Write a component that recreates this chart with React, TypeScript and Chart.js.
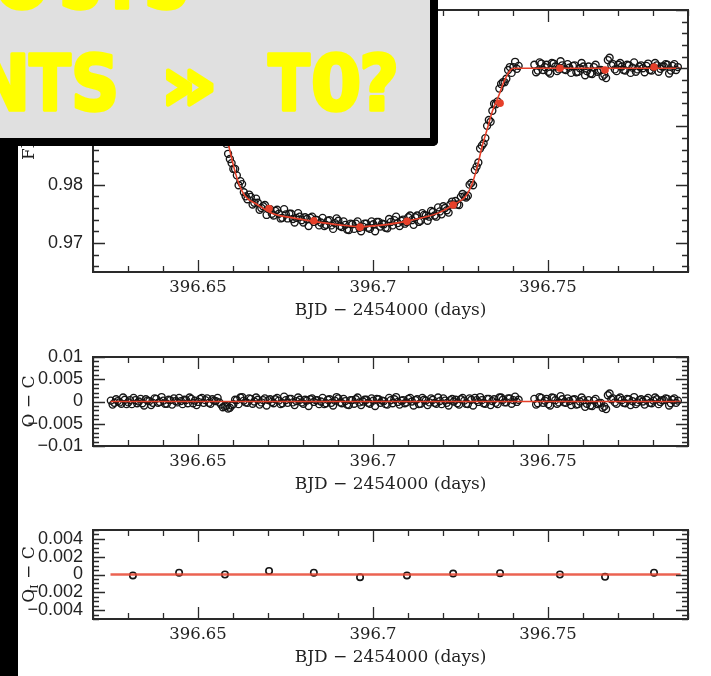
import React, { useEffect, useRef } from 'react';
import { Chart, registerables } from 'chart.js';

Chart.register(...registerables);

// ---------- data ----------
// exposures, first half of the cadence
const TIMES = [
  396.6251, 396.6261, 396.6271, 396.6281, 396.6291, 396.6301, 396.6311, 396.6321, 396.6331, 396.6341,
  396.6351, 396.6361, 396.6371, 396.6381, 396.6391, 396.6401, 396.6411, 396.6421, 396.6431, 396.6441,
  396.6451, 396.6461, 396.6471, 396.6481, 396.6491, 396.6501, 396.6511, 396.6521, 396.6531, 396.6541,
  396.6551, 396.6561, 396.6571, 396.6581, 396.6591, 396.6601, 396.6611, 396.6621, 396.6631, 396.6641,
  396.6651, 396.6661, 396.6671, 396.6681, 396.6691, 396.6701, 396.6711, 396.6721, 396.6731, 396.6741,
  396.6751, 396.6761, 396.6771, 396.6781, 396.6791, 396.6801, 396.6811, 396.6821, 396.6831, 396.6841,
  396.6851, 396.6861, 396.6871, 396.6881, 396.6891, 396.6901, 396.6911, 396.6921, 396.6931, 396.6941,
  396.6951, 396.6961, 396.6971, 396.6981, 396.6991, 396.7001, 396.7011, 396.7021, 396.7031, 396.7041,
  396.7051, 396.7061, 396.7071, 396.7081, 396.7091, 396.7101, 396.7111, 396.7121, 396.7131, 396.7141,
  396.7151, 396.7161, 396.7171, 396.7181, 396.7191, 396.7201, 396.7211, 396.7221, 396.7231, 396.7241,
  396.7251, 396.7261, 396.7271, 396.7281, 396.7291, 396.7301, 396.7311, 396.7321, 396.7331, 396.7341,
  396.7351, 396.7361, 396.7371, 396.7381, 396.7391, 396.7401, 396.7411,
  396.7461, 396.7471, 396.7481, 396.7491, 396.7501, 396.7511, 396.7521, 396.7531, 396.7541, 396.7551,
  396.7561, 396.7571, 396.7581, 396.7591, 396.7601, 396.7611, 396.7621, 396.7631, 396.7641, 396.7651,
  396.7661, 396.7671, 396.7681, 396.7691, 396.7701, 396.7711, 396.7721, 396.7731, 396.7741, 396.7751,
  396.7761, 396.7771, 396.7781, 396.7791, 396.7801, 396.7811, 396.7821, 396.7831, 396.7841, 396.7851,
  396.7861, 396.7871,
];
const FLUX = [
  1.0002, 0.9997, 1.0001, 0.9995, 1.0004, 0.9998, 0.9994, 1.0003, 1.0000, 0.9996,
  1.0005, 1.0001, 0.9997, 1.0006, 0.9999, 1.0002, 0.9995, 1.0003, 1.0007, 0.9998,
  1.0001, 1.0004, 0.9996, 1.0006, 1.0002, 0.9998, 1.0001, 0.9985, 0.9966, 0.9958,
  0.9939, 0.9920, 0.9888, 0.9870, 0.9844, 0.9827, 0.9816, 0.9806, 0.9787, 0.9775,
  0.9779, 0.9769, 0.9769, 0.9760, 0.9765, 0.9758, 0.9750, 0.9755, 0.9750, 0.9743,
  0.9749, 0.9750, 0.9741, 0.9743, 0.9745, 0.9735, 0.9741, 0.9743, 0.9736, 0.9739,
  0.9735, 0.9729, 0.9738, 0.9730, 0.9734, 0.9738, 0.9727, 0.9731, 0.9722, 0.9732,
  0.9733, 0.9726, 0.9728, 0.9733, 0.9724, 0.9732, 0.9736, 0.9728, 0.9732, 0.9725,
  0.9736, 0.9739, 0.9734, 0.9738, 0.9733, 0.9744, 0.9739, 0.9744, 0.9736, 0.9751,
  0.9747, 0.9745, 0.9753, 0.9745, 0.9754, 0.9763, 0.9756, 0.9766, 0.9766, 0.9766,
  0.9779, 0.9780, 0.9781, 0.9803, 0.9825, 0.9838, 0.9867, 0.9880, 0.9911, 0.9927,
  0.9938, 0.9965, 0.9976, 0.9982, 1.0002, 1.0002, 0.9999,
  1.0006, 0.9996, 1.0008, 1.0002, 0.9994, 1.0009, 1.0003, 0.9998, 1.0005, 0.9997,
  1.0001, 1.0004, 0.9993, 1.0000, 1.0003, 0.9995, 0.9991, 1.0002, 0.9994, 0.9997,
  0.9989, 1.0014, 1.0005, 0.9998, 1.0006, 1.0003, 0.9996, 1.0005, 1.0001, 0.9994,
  1.0003, 1.0000, 1.0004, 0.9997, 1.0002, 1.0005, 0.9999, 1.0003, 1.0006, 0.9996,
  1.0007, 1.0002,
];
const RESID = [
  0.0002, -0.0003, 0.0001, -0.0005, 0.0004, -0.0002, -0.0006, 0.0003, 0.0000, -0.0004,
  0.0005, 0.0001, -0.0003, 0.0006, -0.0001, 0.0002, -0.0005, 0.0003, 0.0007, -0.0002,
  0.0001, 0.0004, -0.0004, 0.0006, 0.0002, -0.0001, 0.0008, 0.0003, -0.0003, 0.0005,
  0.0001, -0.0002, -0.0013, -0.0010, -0.0014, -0.0006, 0.0003, 0.0009, 0.0002, -0.0003,
  0.0006, 0.0000, 0.0004, -0.0002, 0.0007, 0.0003, -0.0001, 0.0005, 0.0002, -0.0004,
  0.0003, 0.0006, -0.0002, 0.0001, 0.0004, -0.0005, 0.0002, 0.0005, -0.0001, 0.0003,
  0.0000, -0.0006, 0.0004, -0.0003, 0.0002, 0.0007, -0.0004, 0.0001, -0.0008, 0.0003,
  0.0005, -0.0002, 0.0000, 0.0004, -0.0005, 0.0002, 0.0006, -0.0003, 0.0001, -0.0007,
  0.0003, 0.0005, -0.0001, 0.0002, -0.0004, 0.0006, 0.0000, 0.0003, -0.0006, 0.0008,
  0.0002, -0.0002, 0.0004, -0.0005, 0.0001, 0.0007, -0.0003, 0.0003, 0.0000, -0.0004,
  0.0005, 0.0002, -0.0006, 0.0004, 0.0008, -0.0001, 0.0003, -0.0005, 0.0006, 0.0001,
  -0.0003, 0.0009, 0.0004, -0.0002, 0.0007, 0.0003, -0.0001,
  0.0006, -0.0004, 0.0008, 0.0002, -0.0006, 0.0009, 0.0003, -0.0002, 0.0005, -0.0003,
  0.0001, 0.0004, -0.0007, 0.0000, 0.0003, -0.0005, -0.0009, 0.0002, -0.0006, -0.0003,
  -0.0011, 0.0014, 0.0005, -0.0002, 0.0006, 0.0003, -0.0004, 0.0005, 0.0001, -0.0006,
  0.0003, 0.0000, 0.0004, -0.0003, 0.0002, 0.0005, -0.0001, 0.0003, 0.0006, -0.0004,
  0.0007, 0.0002,
];

// exposures, second half of the cadence
const TIMES_B = [
  396.6256, 396.6266, 396.6276, 396.6286, 396.6296, 396.6306, 396.6316, 396.6326, 396.6336, 396.6346,
  396.6356, 396.6366, 396.6376, 396.6386, 396.6396, 396.6406, 396.6416, 396.6426, 396.6436, 396.6446,
  396.6456, 396.6466, 396.6476, 396.6486, 396.6496, 396.6506, 396.6516, 396.6526, 396.6536, 396.6546,
  396.6556, 396.6566, 396.6576, 396.6586, 396.6596, 396.6606, 396.6616, 396.6626, 396.6636, 396.6646,
  396.6656, 396.6666, 396.6676, 396.6686, 396.6696, 396.6706, 396.6716, 396.6726, 396.6736, 396.6746,
  396.6756, 396.6766, 396.6776, 396.6786, 396.6796, 396.6806, 396.6816, 396.6826, 396.6836, 396.6846,
  396.6856, 396.6866, 396.6876, 396.6886, 396.6896, 396.6906, 396.6916, 396.6926, 396.6936, 396.6946,
  396.6956, 396.6966, 396.6976, 396.6986, 396.6996, 396.7006, 396.7016, 396.7026, 396.7036, 396.7046,
  396.7056, 396.7066, 396.7076, 396.7086, 396.7096, 396.7106, 396.7116, 396.7126, 396.7136, 396.7146,
  396.7156, 396.7166, 396.7176, 396.7186, 396.7196, 396.7206, 396.7216, 396.7226, 396.7236, 396.7246,
  396.7256, 396.7266, 396.7276, 396.7286, 396.7296, 396.7306, 396.7316, 396.7326, 396.7336, 396.7346,
  396.7356, 396.7366, 396.7376, 396.7386, 396.7396, 396.7406, 396.7416,
  396.7466, 396.7476, 396.7486, 396.7496, 396.7506, 396.7516, 396.7526, 396.7536, 396.7546, 396.7556,
  396.7566, 396.7576, 396.7586, 396.7596, 396.7606, 396.7616, 396.7626, 396.7636, 396.7646, 396.7656,
  396.7666, 396.7676, 396.7686, 396.7696, 396.7706, 396.7716, 396.7726, 396.7736, 396.7746, 396.7756,
  396.7766, 396.7776, 396.7786, 396.7796, 396.7806, 396.7816, 396.7826, 396.7836, 396.7846, 396.7856,
  396.7866,
];
const FLUX_B = [
  0.9993, 1.0005, 0.9998, 1.0009, 0.9994, 1.0003, 1.0008, 0.9996, 1.0006, 0.9991,
  1.0002, 0.9992, 1.0007, 0.9997, 1.0010, 0.9995, 1.0004, 0.9993, 1.0001, 1.0008,
  0.9994, 1.0003, 1.0009, 0.9996, 0.9992, 1.0002, 0.9985, 0.9983, 0.9956, 0.9948,
  0.9938, 0.9905, 0.9880, 0.9853, 0.9837, 0.9827, 0.9799, 0.9801, 0.9780, 0.9783,
  0.9766, 0.9776, 0.9757, 0.9763, 0.9748, 0.9758, 0.9747, 0.9757, 0.9742, 0.9758,
  0.9742, 0.9750, 0.9735, 0.9751, 0.9739, 0.9744, 0.9729, 0.9745, 0.9740, 0.9730,
  0.9743, 0.9731, 0.9739, 0.9724, 0.9742, 0.9729, 0.9737, 0.9723, 0.9733, 0.9724,
  0.9737, 0.9720, 0.9733, 0.9726, 0.9737, 0.9720, 0.9736, 0.9733, 0.9726, 0.9741,
  0.9730, 0.9745, 0.9729, 0.9740, 0.9736, 0.9747, 0.9731, 0.9747, 0.9738, 0.9748,
  0.9738, 0.9755, 0.9747, 0.9761, 0.9749, 0.9760, 0.9752, 0.9771, 0.9772, 0.9765,
  0.9784, 0.9778, 0.9800, 0.9799, 0.9831, 0.9862, 0.9871, 0.9901, 0.9908, 0.9939,
  0.9943, 0.9973, 0.9976, 0.9997, 0.9992, 1.0011, 1.0004,
  0.9993, 1.0010, 0.9997, 1.0006, 0.9991, 1.0008, 0.9995, 1.0012, 0.9998, 1.0007,
  0.9992, 1.0005, 0.9994, 1.0009, 0.9988, 1.0003, 0.9990, 1.0006, 0.9996, 0.9986,
  0.9983, 1.0018, 1.0007, 0.9995, 1.0009, 0.9997, 1.0006, 0.9992, 1.0010, 0.9998,
  1.0005, 0.9993, 1.0008, 0.9996, 1.0009, 0.9994, 1.0003, 1.0007, 0.9991, 1.0004,
  0.9997,
];
const RESID_B = [
  -0.0007, 0.0005, -0.0002, 0.0009, -0.0006, 0.0003, 0.0008, -0.0004, 0.0006, -0.0009,
  0.0002, -0.0008, 0.0007, -0.0003, 0.0010, -0.0005, 0.0004, -0.0007, 0.0001, 0.0008,
  -0.0006, 0.0003, 0.0009, -0.0004, -0.0008, 0.0006, -0.0003, 0.0007, -0.0005, 0.0002,
  0.0008, -0.0007, -0.0011, -0.0016, -0.0009, 0.0004, -0.0006, 0.0010, -0.0002, 0.0007,
  -0.0005, 0.0009, -0.0007, 0.0003, -0.0009, 0.0005, -0.0004, 0.0008, -0.0006, 0.0011,
  -0.0003, 0.0006, -0.0008, 0.0009, -0.0002, 0.0004, -0.0010, 0.0007, 0.0003, -0.0006,
  0.0008, -0.0004, 0.0005, -0.0009, 0.0010, -0.0002, 0.0006, -0.0007, 0.0003, -0.0005,
  0.0009, -0.0008, 0.0004, -0.0003, 0.0007, -0.0010, 0.0005, 0.0002, -0.0006, 0.0008,
  -0.0004, 0.0010, -0.0007, 0.0003, -0.0002, 0.0008, -0.0009, 0.0005, -0.0005, 0.0004,
  -0.0008, 0.0007, -0.0003, 0.0009, -0.0006, 0.0002, -0.0009, 0.0006, 0.0004, -0.0007,
  0.0008, -0.0005, 0.0007, -0.0009, 0.0003, 0.0010, -0.0004, 0.0006, -0.0008, 0.0005,
  -0.0006, 0.0009, -0.0002, 0.0007, -0.0005, 0.0011, 0.0004,
  -0.0007, 0.0010, -0.0003, 0.0006, -0.0009, 0.0008, -0.0005, 0.0012, -0.0002, 0.0007,
  -0.0008, 0.0005, -0.0006, 0.0009, -0.0012, 0.0003, -0.0010, 0.0006, -0.0004, -0.0014,
  -0.0017, 0.0018, 0.0007, -0.0005, 0.0009, -0.0003, 0.0006, -0.0008, 0.0010, -0.0002,
  0.0005, -0.0007, 0.0008, -0.0004, 0.0009, -0.0006, 0.0003, 0.0007, -0.0009, 0.0004,
  -0.0003,
];

// transit model (red curve)
const MODEL_T = [
  396.6250, 396.6497, 396.6507, 396.6526, 396.6540, 396.6559, 396.6573, 396.6588, 396.6602, 396.6616,
  396.6635, 396.6669, 396.6711, 396.6771, 396.6831, 396.6903, 396.6960, 396.7031, 396.7093, 396.7146,
  396.7189, 396.7231, 396.7265, 396.7284, 396.7298, 396.7312, 396.7327, 396.7341, 396.7360, 396.7374,
  396.7393, 396.7403, 396.7880,
];
const MODEL_F = [
  1.0000, 1.0000, 0.9997, 0.9977, 0.9954, 0.9926, 0.9897, 0.9866, 0.9831, 0.9803,
  0.9780, 0.9766, 0.9751, 0.9743, 0.9737, 0.9731, 0.9728, 0.9731, 0.9737, 0.9744,
  0.9752, 0.9766, 0.9780, 0.9803, 0.9831, 0.9866, 0.9897, 0.9926, 0.9954, 0.9977,
  0.9997, 1.0000, 1.0000,
];

// binned points
const BIN_T = [396.6314, 396.6446, 396.6577, 396.6703, 396.6831, 396.6963, 396.7097, 396.7229, 396.7363, 396.7534, 396.7663, 396.7803];
const BIN_FLUX = [1.0000, 1.0001, 0.9890, 0.9759, 0.9738, 0.9727, 0.9737, 0.9765, 0.9940, 1.0000, 0.9997, 1.0002];
const BIN_RESID = [-0.0001, 0.0002, 0.0000, 0.0004, 0.0002, -0.0003, -0.0001, 0.0001, 0.00015, 0.0000, -0.00026, 0.0002];

const ZERO_T = [396.6250, 396.7879];
const ZERO_V = [0, 0];

const X_TICKS = [396.65, 396.7, 396.75];
const FLUX_TICKS = [0.97, 0.98, 0.99, 1.0];
const OC_TICKS = [-0.01, -0.005, 0, 0.005, 0.01];
const OIC_TICKS = [-0.004, -0.002, 0, 0.002, 0.004];

const X_TITLE = 'BJD − 2454000 (days)';
// [character, centre x, horizontal scale]
const BOX_LINE1: [string, number, number][] = [['O', 22, 0.88], ['S', 81, 0.8], ['I', 122, 0.8], ['S', 167, 0.85]];
const BOX_LINE2: [string, number, number][] = [
  ['N', 2, 0.88], ['T', 50, 0.8], ['S', 95, 0.88], ['»', 189, 1.2], ['T', 289, 0.8], ['0', 336, 0.95], ['?', 379, 0.9],
];

// ---------- styling ----------
const RED = '#e6402a';
const INK = '#222222';

function makeFrameTicks(o: any) {
  return {
    id: 'frameTicks',
    afterDraw(chart: any) {
      const { ctx, chartArea } = chart;
      const { left, right, top, bottom } = chartArea;
      const xs = chart.scales.x;
      const ys = chart.scales.y;
      const list = (min: number, max: number, step: number) => {
        const out: number[] = [];
        const a = Math.ceil(min / step - 1e-6);
        const b = Math.floor(max / step + 1e-6);
        for (let i = a; i <= b; i++) out.push(i * step);
        return out;
      };
      const major = (v: number, step: number) => Math.abs(v / step - Math.round(v / step)) < 1e-5;
      ctx.save();
      ctx.strokeStyle = '#2a2a2a';
      ctx.lineWidth = 1.3;
      ctx.beginPath();
      for (const v of list(xs.min, xs.max, o.xMinor)) {
        const p = Math.round(xs.getPixelForValue(v)) + 0.5;
        const len = major(v, o.xMajor) ? 12 : 6;
        ctx.moveTo(p, bottom); ctx.lineTo(p, bottom - len);
        ctx.moveTo(p, top); ctx.lineTo(p, top + len);
      }
      for (const v of list(ys.min, ys.max, o.yMinor)) {
        const p = Math.round(ys.getPixelForValue(v)) + 0.5;
        const len = major(v, o.yMajor) ? 12 : 6;
        ctx.moveTo(left, p); ctx.lineTo(left + len, p);
        ctx.moveTo(right, p); ctx.lineTo(right - len, p);
      }
      ctx.stroke();
      ctx.lineWidth = 2;
      ctx.strokeRect(left, top, right - left, bottom - top);
      ctx.restore();
    },
  };
}

function makeYTitle(parts: { t: string; sub?: boolean }[]) {
  return {
    id: 'yTitle',
    afterDraw(chart: any) {
      const { ctx, chartArea } = chart;
      const cy = (chartArea.top + chartArea.bottom) / 2;
      ctx.save();
      ctx.translate(27.5, cy);
      ctx.rotate(-Math.PI / 2);
      ctx.fillStyle = INK;
      ctx.textBaseline = 'alphabetic';
      ctx.textAlign = 'left';
      const main = '17px "DejaVu Serif"';
      const sub = '11px "DejaVu Serif"';
      let total = 0;
      const widths = parts.map((p) => {
        ctx.font = p.sub ? sub : main;
        const w = ctx.measureText(p.t).width;
        total += w;
        return w;
      });
      let x = -total / 2;
      parts.forEach((p, i) => {
        ctx.font = p.sub ? sub : main;
        ctx.fillText(p.t, x, p.sub ? 10 : 6);
        x += widths[i];
      });
      ctx.restore();
    },
  };
}

const fmt = (v: number) => String(v).replace('-', '−');

function panelConfig(p: any) {
  return {
    type: 'scatter',
    data: { datasets: p.datasets },
    options: {
      responsive: false,
      animation: false,
      events: [],
      layout: { padding: { left: 0, right: 23, top: p.padTop, bottom: 0 } },
      plugins: { legend: { display: false }, tooltip: { enabled: false } },
      scales: {
        x: {
          type: 'linear',
          min: 396.62,
          max: 396.79,
          afterBuildTicks: (s: any) => { s.ticks = X_TICKS.map((v) => ({ value: v })); },
          afterFit: (s: any) => { s.height = 57; s.paddingLeft = 0; s.paddingRight = 0; },
          grid: { display: false, drawTicks: false },
          border: { display: false },
          ticks: {
            autoSkip: false, maxRotation: 0, padding: 6, color: INK,
            font: { family: 'DejaVu Serif', size: 16.5 },
            callback: (v: number) => String(v),
          },
          title: {
            display: true, text: X_TITLE, color: INK,
            font: { family: 'DejaVu Serif', size: 17 },
            padding: { top: 0, bottom: 8 },
          },
        },
        y: {
          type: 'linear',
          min: p.yMin,
          max: p.yMax,
          afterBuildTicks: (s: any) => { s.ticks = p.yTicks.map((v: number) => ({ value: v })); },
          afterFit: (s: any) => { s.width = 93; s.paddingTop = 0; s.paddingBottom = 0; },
          grid: { display: false, drawTicks: false },
          border: { display: false },
          ticks: {
            autoSkip: false, padding: 10, color: INK,
            font: { family: 'Liberation Sans', size: 18 },
            callback: (v: number) => fmt(v),
          },
        },
      },
    },
    plugins: [makeFrameTicks(p.ticks), makeYTitle(p.title)],
  };
}

const pts = (xs: number[], ys: number[]) => xs.map((x, i) => ({ x, y: ys[i] }));

const openCircles = (data: any, r = 3.5) => ({
  data,
  pointRadius: r,
  pointBorderWidth: 1.35,
  pointBorderColor: '#151515',
  pointBackgroundColor: 'rgba(0,0,0,0)',
  showLine: false,
});

const redLine = (data: any, w: number, color = RED) => ({
  data,
  showLine: true,
  borderColor: color,
  borderWidth: w,
  pointRadius: 0,
  cubicInterpolationMode: 'monotone',
  fill: false,
});

export default function App() {
  const r1 = useRef<HTMLCanvasElement>(null);
  const r2 = useRef<HTMLCanvasElement>(null);
  const r3 = useRef<HTMLCanvasElement>(null);

  useEffect(() => {
    const c1 = new Chart(r1.current as any, panelConfig({
      padTop: 10, yMin: 0.965, yMax: 1.01, yTicks: FLUX_TICKS,
      ticks: { xMajor: 0.05, xMinor: 0.01, yMajor: 0.01, yMinor: 0.002 },
      title: [{ t: 'Flux' }],
      datasets: [
        { data: pts(BIN_T, BIN_FLUX), pointRadius: 3.8, pointBackgroundColor: RED, pointBorderColor: RED, pointBorderWidth: 0, showLine: false },
        redLine(pts(MODEL_T, MODEL_F), 1.6),
        openCircles(pts(TIMES, FLUX)),
        openCircles(pts(TIMES_B, FLUX_B)),
      ],
    }) as any);
    const c2 = new Chart(r2.current as any, panelConfig({
      padTop: 27, yMin: -0.01, yMax: 0.01, yTicks: OC_TICKS,
      ticks: { xMajor: 0.05, xMinor: 0.01, yMajor: 0.005, yMinor: 0.001 },
      title: [{ t: 'O − C' }],
      datasets: [
        redLine(pts(ZERO_T, ZERO_V), 1.5),
        openCircles(pts(TIMES, RESID)),
        openCircles(pts(TIMES_B, RESID_B)),
      ],
    }) as any);
    const c3 = new Chart(r3.current as any, panelConfig({
      padTop: 27, yMin: -0.005, yMax: 0.005, yTicks: OIC_TICKS,
      ticks: { xMajor: 0.05, xMinor: 0.01, yMajor: 0.002, yMinor: 0.0005 },
      title: [{ t: 'O' }, { t: 'I', sub: true }, { t: ' − C' }],
      datasets: [
        redLine(pts(ZERO_T, ZERO_V), 2.5, 'rgba(232,70,50,0.85)'),
        { ...openCircles(pts(BIN_T, BIN_RESID), 3.2), pointBorderWidth: 1.6 },
      ],
    }) as any);
    return () => { c1.destroy(); c2.destroy(); c3.destroy(); };
  }, []);

  return (
    <div style={{ position: 'absolute', left: 0, top: 0, width: 711, height: 676, background: '#fff', overflow: 'hidden' }}>
      <canvas ref={r1} width={711} height={329} style={{ position: 'absolute', left: 0, top: 0 }} />
      <canvas ref={r2} width={711} height={173} style={{ position: 'absolute', left: 0, top: 330 }} />
      <canvas ref={r3} width={711} height={173} style={{ position: 'absolute', left: 0, top: 503 }} />
      <div style={{ position: 'absolute', left: 0, top: 0, width: 18, height: 676, background: '#000' }} />
      <div style={{
        position: 'absolute', left: 0, top: 0, width: 430, height: 138, background: '#e0e0e0',
        borderRight: '8px solid #000', borderBottom: '8px solid #000', borderBottomRightRadius: 5, overflow: 'hidden',
      }}>
        <svg width={430} height={138} style={{ display: 'block' }}>
          <g fill="#ffff00" stroke="#ffff00" strokeWidth={3.5} strokeLinejoin="round" strokeLinecap="round"
            fontFamily="DejaVu Sans" fontWeight="bold" fontSize={76}>
            {BOX_LINE1.map(([ch, cx, sx], i) => (
              <text key={'a' + i} textAnchor="middle" transform={`translate(${cx},8) scale(${sx},1)`}>{ch}</text>
            ))}
            {BOX_LINE2.map(([ch, cx, sx], i) => (
              <text key={'b' + i} textAnchor="middle" transform={`translate(${cx},110) scale(${sx},1)`}>{ch}</text>
            ))}
          </g>
        </svg>
      </div>
    </div>
  );
}
